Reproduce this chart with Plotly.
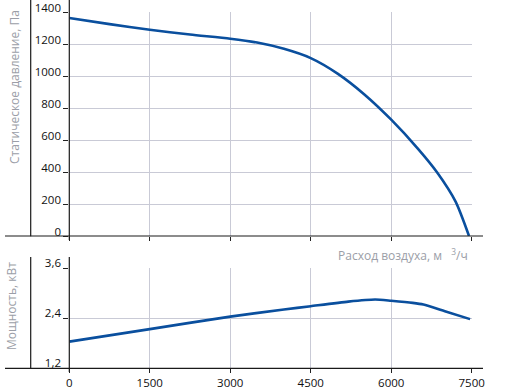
import plotly.graph_objects as go

# ---- data ----
flow_p = [0, 750, 1500, 2250, 3000, 3500, 4000, 4500, 5000, 5500, 6000, 6500, 6850, 7200, 7450]
pressure = [1362, 1324, 1289, 1259, 1233, 1209, 1170, 1112, 1015, 885, 727, 545, 400, 215, 0]

flow_n = [0, 1500, 3000, 4000, 4500, 5200, 5700, 6000, 6400, 6600, 7000, 7470]
power = [1.84, 2.14, 2.44, 2.61, 2.69, 2.80, 2.85, 2.82, 2.77, 2.73, 2.57, 2.38]

x_ticks = [0, 1500, 3000, 4500, 6000, 7500]
x_labels = ["0", "1500", "3000", "4500", "6000", "7500"]
p_ticks = [0, 200, 400, 600, 800, 1000, 1200, 1400]
n_ticks = [1.2, 2.4, 3.6]
n_labels = ["1,2", "2,4", "3,6"]

W, H = 516, 392
LINE = "#0a4f9e"
GRID = "#c9cad6"
TITLE = "#9b9ea7"
FONT = "Open Sans"

def px(x):
    return x / W

def py(y):
    return (H - y) / H

fig = go.Figure()
fig.add_trace(go.Scatter(x=flow_p, y=pressure, mode="lines", line=dict(color=LINE, width=2.6, shape="spline", smoothing=0.7),
                         xaxis="x", yaxis="y", hoverinfo="skip"))
fig.add_trace(go.Scatter(x=flow_n, y=power, mode="lines", line=dict(color=LINE, width=2.6, shape="spline", smoothing=0.6),
                         xaxis="x2", yaxis="y2", hoverinfo="skip"))

x_dom = [px(69.3), px(471.7)]
common_x = dict(range=[0, 7500], tickvals=x_ticks, ticktext=x_labels, showgrid=True, gridcolor=GRID, gridwidth=1,
                zeroline=False, showline=False, ticks="outside", ticklen=4, tickcolor="#222", domain=x_dom,
                tickfont=dict(family=FONT, size=11.5, color="#111"))
fig.update_layout(
    width=W, height=H,
    margin=dict(l=0, r=0, t=0, b=0, autoexpand=False),
    paper_bgcolor="white", plot_bgcolor="white",
    showlegend=False,
    xaxis=dict(common_x, anchor="y", showticklabels=False),
    yaxis=dict(range=[0, 1400], domain=[py(236), py(12)], tickvals=p_ticks, showgrid=True, gridcolor=GRID,
               zeroline=False, showline=False, ticks="outside", ticklen=5, tickcolor="#222",
               tickfont=dict(family=FONT, size=11.5, color="#111"), ticklabelshift=-4, anchor="x"),
    xaxis2=dict(common_x, anchor="y2"),
    yaxis2=dict(range=[1.2, 3.6], domain=[py(368.3), py(268.3)], tickvals=n_ticks, ticktext=n_labels,
                showgrid=True, gridcolor=GRID, zeroline=False, showline=False, ticks="outside", ticklen=5,
                tickcolor="#222", tickfont=dict(family=FONT, size=11.5, color="#111"), ticklabelshift=-5, anchor="x2"),
)

shapes = []
def line(x0, y0, x1, y1):
    shapes.append(dict(type="line", xref="paper", yref="paper", x0=px(x0), y0=py(y0), x1=px(x1), y1=py(y1),
                       line=dict(color="#1a1a1a", width=1.2)))

# top panel frame lines
line(69.3, 0, 69.3, 240)
line(30.7, 0, 30.7, 236.3)
line(5, 236, 483, 236)
# bottom panel frame lines
line(69.3, 257, 69.3, 372)
line(30.7, 257, 30.7, 368.3)
line(5, 368.3, 483, 368.3)
fig.update_layout(shapes=shapes)

fig.add_annotation(xref="paper", yref="paper", x=px(14), y=py(87), text="Статическое давление, Па", textangle=-90,
                   showarrow=False, font=dict(family=FONT, size=12, color=TITLE), xanchor="center", yanchor="middle")
fig.add_annotation(xref="paper", yref="paper", x=px(11), y=py(306), text="Мощность, кВт", textangle=-90,
                   showarrow=False, font=dict(family=FONT, size=12, color=TITLE), xanchor="center", yanchor="middle")
fig.add_annotation(xref="paper", yref="paper", x=px(470), y=py(255),
                   text="Расход воздуха, м\u00a0\u00a0\u00a0<sup>3</sup>/ч",
                   showarrow=False, font=dict(family=FONT, size=12, color=TITLE), xanchor="right", yanchor="middle")

fig.write_html("out.html", config={"displayModeBar": False, "staticPlot": True},
               post_script="document.body.style.margin='0';document.body.style.overflow='hidden';")
